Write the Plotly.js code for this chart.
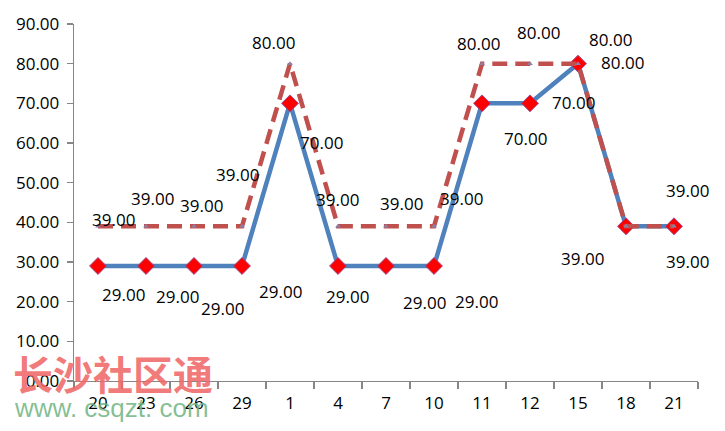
<!DOCTYPE html>
<html>
<head>
<meta charset="utf-8">
<script src="https://cdn.plot.ly/plotly-3.0.1.min.js"></script>
<style>
  html, body { margin: 0; padding: 0; background: #fff; }
  #chart { width: 725px; height: 431px; }
</style>
</head>
<body>
<div id="chart"></div>
<script>
// Category labels along the x axis
const categories = ['20', '23', '26', '29', '1', '4', '7', '10', '11', '12', '15', '18', '21'];
// Solid blue series
const seriesA = [29, 29, 29, 29, 70, 29, 29, 29, 70, 70, 80, 39, 39];
// Dashed red series
const seriesB = [39, 39, 39, 39, 80, 39, 39, 39, 80, 80, 80, 39, 39];
// Y axis tick values
const yTicks = [0, 10, 20, 30, 40, 50, 60, 70, 80, 90];

// Pixel offsets for each data label (dx right, dy down); null = label shares the other series' spot
const offsetsA = [[25, 29], [31, 31], [28, 43], [38, 26], [31, 39], [9, 31], [38, 37], [42, 36], [43, 35], [43, -1], [44, -1], [-44, 32], [13, 35]];
const offsetsB = [[15, -7], [6, -28], [7, -21], [-5, -52], [-17, -21], [-1, -27], [15, -23], [27, -28], [-4, -20], [8, -31], [32, -24], null, [13, -36]];

const labelFont = { family: 'Open Sans, Liberation Sans, sans-serif', size: 17, color: '#000' };

// Labels are anchored on the category index so numeric-looking names are not misread
function labels(values, offsets) {
  const out = [];
  values.forEach((v, i) => {
    if (!offsets[i]) return;
    out.push({
      x: i, y: v, xref: 'x', yref: 'y',
      text: v.toFixed(2), showarrow: false,
      xshift: offsets[i][0], yshift: -offsets[i][1],
      font: labelFont
    });
  });
  return out;
}

const traces = [
  {
    x: categories, y: seriesA, type: 'scatter', mode: 'lines+markers',
    line: { color: '#4F81BD', width: 4.5 },
    marker: { symbol: 'diamond', size: 13, color: '#FF0000', line: { color: '#9B4A8E', width: 1 } },
    cliponaxis: false
  },
  {
    x: categories, y: seriesB, type: 'scatter', mode: 'lines+markers',
    line: { color: '#C0504D', width: 4.5, dash: '15px,8px' },
    marker: { symbol: 'triangle-up', size: 5, color: '#8C7FA6' },
    cliponaxis: false
  }
];

const annotations = labels(seriesA, offsetsA).concat(labels(seriesB, offsetsB));

// Site watermark over the lower left corner
annotations.push({
  xref: 'paper', yref: 'paper', x: 0, y: 0, xanchor: 'left', yanchor: 'top',
  xshift: -63, yshift: 39,
  text: '<b>长沙社区通</b>', showarrow: false,
  font: { family: 'Noto Sans CJK SC', size: 40, color: 'rgba(240,105,105,0.88)' }
});
annotations.push({
  xref: 'paper', yref: 'paper', x: 0, y: 0, xanchor: 'left', yanchor: 'top',
  xshift: -62, yshift: -10,
  text: 'www. csqzt. com', showarrow: false,
  font: { family: 'Liberation Sans, Arial, sans-serif', size: 26, color: 'rgba(110,180,130,0.85)' }
});

const layout = {
  width: 725, height: 431,
  margin: { l: 74, r: 27, t: 24, b: 50 },
  paper_bgcolor: '#fff', plot_bgcolor: '#fff',
  showlegend: false,
  font: labelFont,
  xaxis: {
    type: 'category', range: [-0.5, 12.5],
    showgrid: false, zeroline: false,
    showline: true, linecolor: '#868686', linewidth: 1.3,
    ticks: 'outside', tickson: 'boundaries', ticklen: 7, tickcolor: '#868686', tickwidth: 1.3,
    ticklabelstandoff: 6,
    tickfont: labelFont
  },
  yaxis: {
    range: [0, 90], tickvals: yTicks, ticktext: yTicks.map(v => v.toFixed(2)),
    showgrid: false, zeroline: false,
    showline: true, linecolor: '#868686', linewidth: 1.3,
    ticks: 'outside', ticklen: 6, tickcolor: '#868686', tickwidth: 1.3,
    ticklabelstandoff: 4,
    tickfont: labelFont
  },
  annotations: annotations
};

Plotly.newPlot('chart', traces, layout, { staticPlot: true, displayModeBar: false });
</script>
</body>
</html>
